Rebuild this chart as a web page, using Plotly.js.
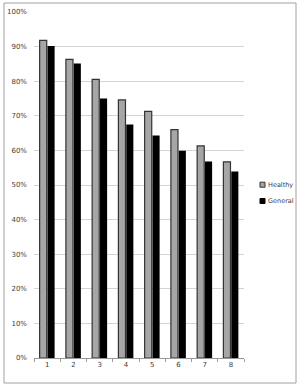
<!DOCTYPE html>
<html>
<head>
<meta charset="utf-8">
<script src="https://cdn.plot.ly/plotly-3.0.1.min.js"></script>
<style>html,body{margin:0;padding:0;background:#fff;}#chart{width:300px;height:388px;}</style>
</head>
<body>
<div id="chart"></div>
<script>
const categories = ["1", "2", "3", "4", "5", "6", "7", "8"];
const healthy = [0.918, 0.863, 0.805, 0.746, 0.713, 0.660, 0.613, 0.567];
const general = [0.902, 0.851, 0.750, 0.675, 0.643, 0.599, 0.568, 0.539];
const yTicks = [0, 0.1, 0.2, 0.3, 0.4, 0.5, 0.6, 0.7, 0.8, 0.9, 1.0];
const yTickLabels = ["0%", "10%", "20%", "30%", "40%", "50%", "60%", "70%", "80%", "90%", "100%"];
const seriesNames = ["Healthy", "General"];

const healthyColor = "#a6a6a6", healthyEdge = "#333333", generalColor = "#000000";

const traces = [
  {type: "bar", name: seriesNames[0], x: categories, y: healthy,
   marker: {color: healthyColor, line: {color: healthyEdge, width: 1.2}}},
  {type: "bar", name: seriesNames[1], x: categories, y: general,
   marker: {color: generalColor, line: {color: generalColor, width: 0}}}
];

// custom small-square legend (container pixel coordinates converted to paper units)
const L = 34, R = 56, T = 12, B = 30, W = 300, H = 388;
const pw = W - L - R, ph = H - T - B;
const px = v => (v - L) / pw;
const py = v => (H - B - v) / ph;
const legendRows = [184.7, 201];
const legendShapes = legendRows.map((yc, i) => ({
  type: "rect", xref: "paper", yref: "paper",
  x0: px(260), x1: px(265), y0: py(yc + 2.5), y1: py(yc - 2.5),
  fillcolor: i === 0 ? healthyColor : generalColor,
  line: {color: i === 0 ? healthyEdge : generalColor, width: 1}
}));
const legendText = legendRows.map((yc, i) => ({
  xref: "paper", yref: "paper", x: px(265.5), y: py(yc), xanchor: "left", yanchor: "middle",
  text: seriesNames[i], showarrow: false, font: {size: 6.5, color: "#404040"}
}));

const layout = {
  width: W, height: H,
  margin: {l: L, r: R, t: T, b: B, autoexpand: false},
  paper_bgcolor: "#ffffff", plot_bgcolor: "#ffffff",
  font: {family: "DejaVu Sans", size: 7, color: "#404040"},
  barmode: "group", bargap: 0.4, bargroupgap: 0.1,
  showlegend: false,
  xaxis: {type: "category", showgrid: false, showline: true, linecolor: "#999999", linewidth: 1,
          ticks: "outside", ticklen: 3, tickcolor: "#999999", tickson: "boundaries",
          tickfont: {size: 7, color: "#404040"}, fixedrange: true},
  yaxis: {range: [0, 1.0], tickvals: yTicks, ticktext: yTickLabels,
          showgrid: true, gridcolor: "#d4d4d4", gridwidth: 1, zeroline: false, showline: false,
          ticks: "", ticklabelstandoff: 6, tickfont: {size: 7, color: "#404040"}, fixedrange: true},
  shapes: [
    {type: "rect", xref: "paper", yref: "paper", x0: px(4), x1: px(296), y0: py(383), y1: py(3),
     line: {color: "#a0a0a0", width: 1}, fillcolor: "rgba(0,0,0,0)", layer: "below"}
  ].concat(legendShapes),
  annotations: legendText
};

Plotly.newPlot("chart", traces, layout, {displayModeBar: false, staticPlot: true});
</script>
</body>
</html>
